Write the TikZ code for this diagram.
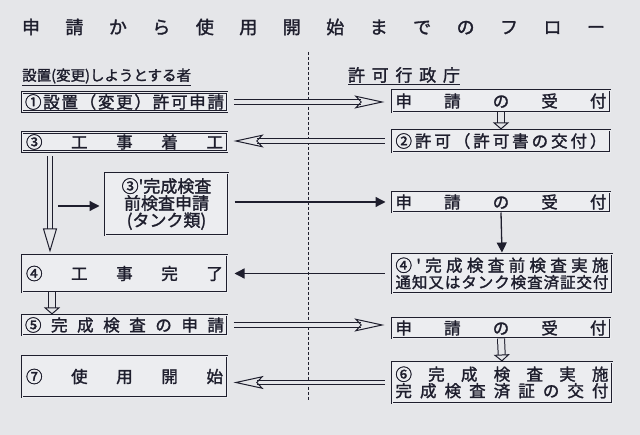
\documentclass[tikz,border=0pt]{standalone}
\usepackage{fontspec}
\newfontfamily\jp{Noto Sans CJK JP}[FakeBold=1.6]
\usetikzlibrary{arrows.meta}
\definecolor{bg}{RGB}{229,230,233}
\definecolor{boxfill}{RGB}{236,237,240}
\definecolor{ink}{RGB}{30,30,45}
\newcommand{\sz}[1]{\fontsize{#1}{#1}\selectfont}
\tikzset{
  box/.style={draw=ink, line width=1pt, double=boxfill, double distance=0.9pt, fill=boxfill,
    inner sep=0pt, text=ink, font=\jp\sz{16.5}, align=center},
  hol/.style={draw=ink, line width=1pt, double=bg, double distance=3.5pt,
    -{Stealth[open, length=30pt, width=13pt, inset=6pt]}},
  holv/.style={draw=ink, line width=1pt, double=bg, double distance=6pt,
    -{Triangle[open, length=7pt, width=16pt]}},
  hollong/.style={draw=ink, line width=1pt, double=bg, double distance=3.5pt,
    -{Triangle[open, length=24pt, width=14pt]}},
  sol/.style={draw=ink, line width=1.3pt, -{Triangle[length=10pt, width=10pt]}},
  hdr/.style={text=ink, inner sep=0pt, font=\jp\sz{14.5}}
}
\begin{document}
\begin{tikzpicture}[x=1pt, y=-1pt]
\useasboundingbox (0,0) rectangle (640,435);
\fill[bg] (0,0) rectangle (640,435);

% title
\node[text=ink, inner sep=0pt, font=\jp\sz{18}] (title) at (313.5,27)
  {\makebox[583pt][s]{申\hfill 請\hfill か\hfill ら\hfill 使\hfill 用\hfill 開\hfill 始\hfill ま\hfill で\hfill の\hfill フ\hfill ロ\hfill ー}};

% divider
\coordinate (dtop) at (308,52);
\coordinate (dbot) at (308,401);
\draw[ink, line width=1pt, dash pattern=on 3pt off 2pt] (dtop) -- (dbot);

% headers
\node[hdr, anchor=west] (hl) at (22,77) {\underline{設置(変更)しようとする者}};
\node[hdr, font=\jp\sz{17}] (hr) at (404,76) {\underline{\makebox[112pt][s]{許\hfill 可\hfill 行\hfill 政\hfill 庁}}};

% left boxes
\node[box, minimum width=205pt, minimum height=19pt] (b1) at (124.5,102)
  {\makebox[199pt][s]{①\hfill 設\hfill 置\hfill （\hfill 変\hfill 更\hfill ）\hfill 許\hfill 可\hfill 申\hfill 請}};
\node[box, minimum width=205pt, minimum height=19pt] (b3) at (124.5,142)
  {\makebox[197pt][s]{③\hfill 工\hfill 事\hfill 着\hfill 工}};
\node[box, minimum width=123pt, minimum height=62pt, font=\jp\sz{17}] (b3p) at (166.5,204)
  {③'完成検査\\[0pt]前検査申請\\[0pt](タンク類)};
\node[box, minimum width=205pt, minimum height=37pt] (b4) at (124.5,273.5)
  {\makebox[197pt][s]{④\hfill 工\hfill 事\hfill 完\hfill 了}};
\node[box, minimum width=205pt, minimum height=20pt] (b5) at (124.5,325)
  {\makebox[199pt][s]{⑤\hfill 完\hfill 成\hfill 検\hfill 査\hfill の\hfill 申\hfill 請}};
\node[box, minimum width=205pt, minimum height=41pt] (b7) at (124.5,376.5)
  {\makebox[197pt][s]{⑦\hfill 使\hfill 用\hfill 開\hfill 始}};

% right boxes
\node[box, minimum width=218pt, minimum height=22pt] (r1) at (501,101)
  {\makebox[211pt][s]{申\hfill 請\hfill の\hfill 受\hfill 付}};
\node[box, minimum width=218pt, minimum height=22pt] (r2) at (501,141)
  {\makebox[211pt][s]{②\hfill 許\hfill 可\hfill （\hfill 許\hfill 可\hfill 書\hfill の\hfill 交\hfill 付\hfill ）}};
\node[box, minimum width=218pt, minimum height=20pt] (r3) at (501,202)
  {\makebox[211pt][s]{申\hfill 請\hfill の\hfill 受\hfill 付}};
\node[box, minimum width=220pt, minimum height=39pt] (r4) at (502,273.5)
  {\makebox[213pt][s]{④\hfill '\hfill 完\hfill 成\hfill 検\hfill 査\hfill 前\hfill 検\hfill 査\hfill 実\hfill 施}\\[0pt]
   \makebox[213pt][s]{\sz{15.5}通\hfill 知\hfill 又\hfill は\hfill タ\hfill ン\hfill ク\hfill 検\hfill 査\hfill 済\hfill 証\hfill 交\hfill 付}};
\node[box, minimum width=218pt, minimum height=20pt] (r5) at (501,328)
  {\makebox[211pt][s]{申\hfill 請\hfill の\hfill 受\hfill 付}};
\node[box, minimum width=220pt, minimum height=41pt] (r6) at (502,382.5)
  {\makebox[213pt][s]{⑥\hfill 完\hfill 成\hfill 検\hfill 査\hfill 実\hfill 施}\\[0pt]
   \makebox[213pt][s]{完\hfill 成\hfill 検\hfill 査\hfill 済\hfill 証\hfill の\hfill 交\hfill 付}};

% connectors
\draw[hol, shorten <=6pt, shorten >=7pt] (b1.east) -- (b1.east -| r1.west);
\draw[hol, shorten <=7pt, shorten >=6pt] (r2.west) -- (r2.west -| b3.east);
\draw[holv] (r1.south) -- (r2.north);
\draw[hollong, shorten <=4pt, shorten >=2pt] ([xshift=-74.5pt]b3.south) -- ([xshift=-74.5pt]b4.north);
\coordinate (shaft) at (58,206);
\draw[sol, shorten >=5pt] (shaft) -- (shaft -| b3p.west);
\draw[sol, shorten <=6pt, shorten >=6pt] (b3p.east |- r3.west) -- (r3.west);
\draw[sol, shorten >=1pt] (r3.south) -- (r4.north);
\draw[sol, shorten <=7pt, shorten >=7pt] (r4.west) -- (r4.west -| b4.east);
\draw[holv] ([xshift=-72.5pt]b4.south) -- ([xshift=-72.5pt]b5.north);
\draw[hol, shorten <=6pt, shorten >=7pt] (b5.east) -- (b5.east -| r5.west);
\draw[holv] (r5.south) -- (r6.north);
\draw[hol, shorten <=7pt, shorten >=6pt] (r6.west) -- (r6.west -| b7.east);
\end{tikzpicture}
\end{document}
